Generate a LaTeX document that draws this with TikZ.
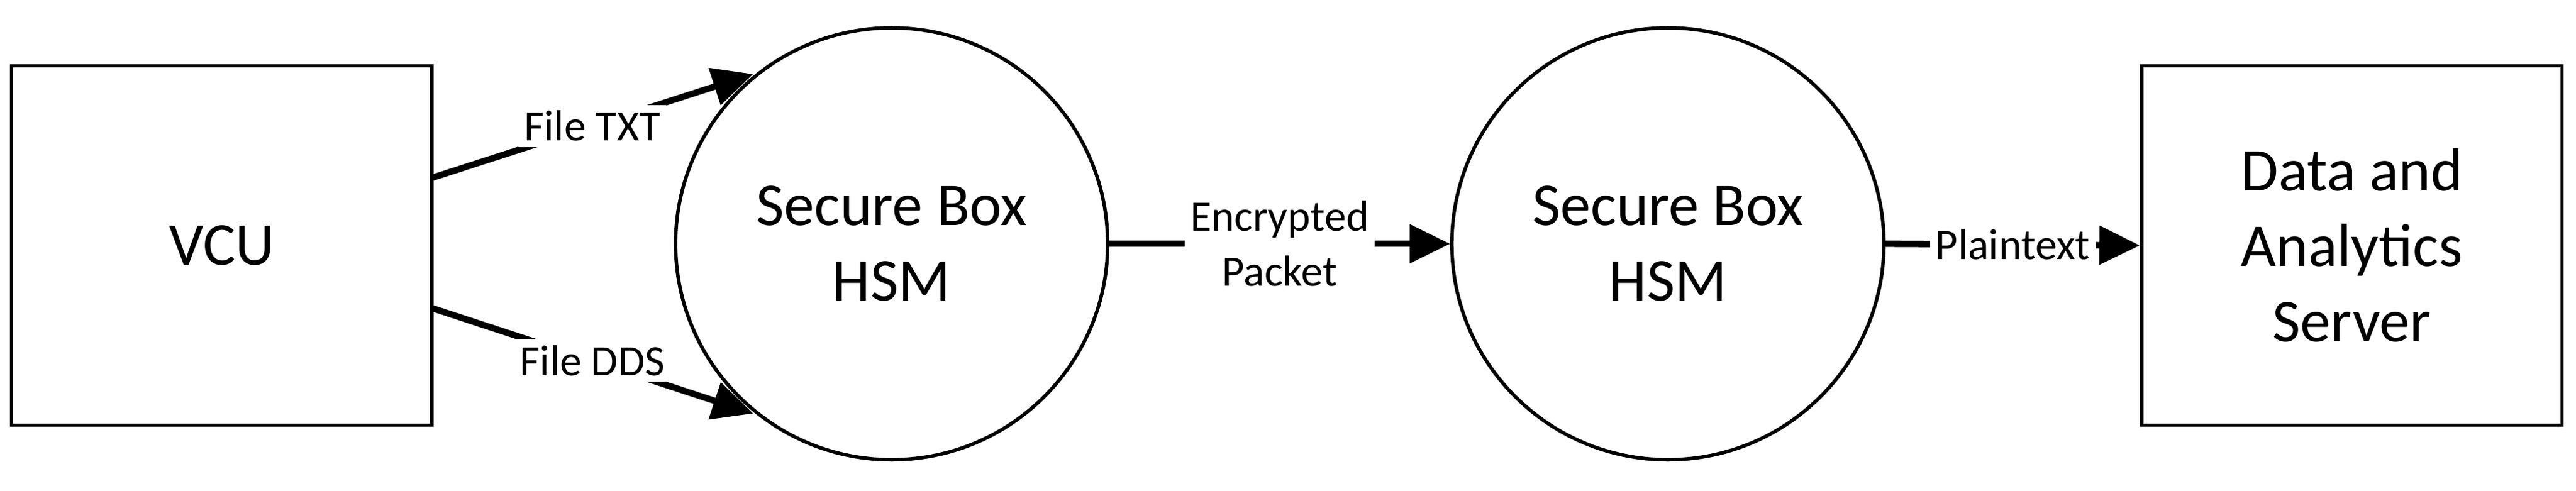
\documentclass[tikz,border=0pt]{standalone}
\usepackage{fontspec}
\setmainfont{Carlito}
\usetikzlibrary{arrows.meta}
\begin{document}
\begin{tikzpicture}[
		x = 0.01cm, y = -0.01cm, line width = 0.6pt,
		box/.style = {draw, minimum width = 2.55cm, minimum height = 2.18cm, font = \fontsize{10.5}{13}\selectfont, align = center},
		hsm/.style = {draw, circle, minimum size = 2.62cm, font = \fontsize{10.5}{13}\selectfont, align = center},
		flow/.style = {line width = 1.1pt, -{Triangle[length = 7pt, width = 6.5pt]}},
		lbl/.style = {fill = white, inner sep = 1pt, font = \fontsize{7.5}{9.5}\selectfont, align = center}
		]
		\useasboundingbox (0,0) rectangle (1563,298);
		\node[box] (vcu) at (134.5,149) {VCU};
		\node[hsm] (hsmA) at (541,148) {Secure Box\\HSM};
		\node[hsm] (hsmB) at (1012,148) {Secure Box\\HSM};
		\node[box] (server) at (1427,149) {Data and\\Analytics\\Server};
		% connector ends
		\coordinate (txtS) at (262,108);
		\coordinate (txtE) at (457,45);
		\coordinate (ddsS) at (262,187);
		\coordinate (ddsE) at (457,251);
		% Flows
		\draw[flow] (txtS) -- node[lbl] {File TXT} (txtE);
		\draw[flow] (ddsS) -- node[lbl] {File DDS} (ddsE);
		\draw[flow] (hsmA.east) -- node[lbl] {Encrypted\\Packet} (hsmB.west);
		\draw[flow] (hsmB.east) -- node[lbl] {Plaintext} (server.west);
\end{tikzpicture}
\end{document}
